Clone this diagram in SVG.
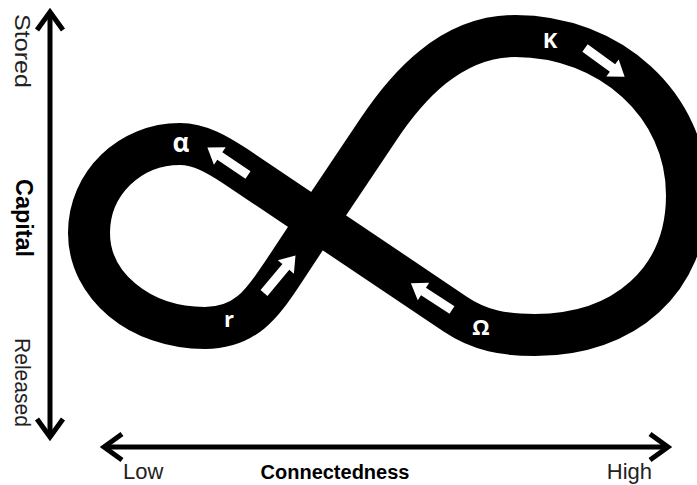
<svg xmlns="http://www.w3.org/2000/svg" width="697" height="485" viewBox="0 0 697 485">
  <style>
    .axis { stroke: #000; stroke-width: 5; fill: none; }
    .axlbl { font-family: "Liberation Sans", Arial, sans-serif; font-size: 22px; fill: #222; }
    .axttl { font-family: "Liberation Sans", Arial, sans-serif; font-size: 20px; font-weight: bold; fill: #000; }
    .band { stroke: #000; stroke-width: 42; fill: none; stroke-linejoin: round; }
    .phase { font-family: "Open Sans", "DejaVu Sans", sans-serif; font-size: 22px; font-weight: bold; fill: #fff; text-anchor: middle; }
    .flow { fill: #fff; }
  </style>
  <defs>
    <marker id="chev" markerUnits="userSpaceOnUse" viewBox="-26 -18 34 36" refX="0" refY="0" markerWidth="34" markerHeight="36" orient="auto-start-reverse">
      <path d="M-18,-13 L0,0 L-18,13" fill="none" stroke="#000" stroke-width="5" stroke-linejoin="miter"/>
    </marker>
    <polygon id="blockArrow" points="0,-4.5 34,-4.5 34,-10.5 49,0 34,10.5 34,4.5 0,4.5"/>
  </defs>
  <rect width="697" height="485" fill="#fff"/>

  <g id="axes">
    <path id="capital-axis" class="axis" d="M50,12 L50,437" marker-start="url(#chev)" marker-end="url(#chev)"/>
    <path id="connectedness-axis" class="axis" d="M104,447 L668,447" marker-start="url(#chev)" marker-end="url(#chev)"/>
  </g>

  <g id="axis-labels">
    <text class="axlbl" transform="translate(15,14) rotate(90)" textLength="74" lengthAdjust="spacingAndGlyphs">Stored</text>
    <text class="axttl" transform="translate(16,218) rotate(90)" text-anchor="middle" style="font-size:23px" textLength="78" lengthAdjust="spacingAndGlyphs">Capital</text>
    <text class="axlbl" transform="translate(15,338) rotate(90)" textLength="89" lengthAdjust="spacingAndGlyphs">Released</text>
    <text class="axlbl" x="123" y="479">Low</text>
    <text class="axttl" x="335" y="479" text-anchor="middle">Connectedness</text>
    <text class="axlbl" x="652" y="479" text-anchor="end">High</text>
  </g>

  <g id="cycle">
    <path class="band" d="M317,221 L378,130 C406,88 450,36 515,36 C610,36 687,105 687,195 C687,280 625,335 535,335 C505,335 480,331 455,314 L235,166 C218,155 200,144 180,144 C130,144 89,183 89,233 C89,285 139,328 205,328 C245,328 262,304 282,274 Z"/>
  </g>

  <g id="flow-arrows">
    <use href="#blockArrow" class="flow" transform="translate(248,175) rotate(-146)"/>
    <use href="#blockArrow" class="flow" transform="translate(264,293) rotate(-50)"/>
    <use href="#blockArrow" class="flow" transform="translate(452,310) rotate(-147)"/>
    <use href="#blockArrow" class="flow" transform="translate(585,48) rotate(36)"/>
  </g>

  <g id="phase-labels">
    <text class="phase" x="181" y="152" style="font-size:26px">α</text>
    <text class="phase" x="229" y="327">r</text>
    <text class="phase" x="481" y="335">Ω</text>
    <text class="phase" x="550" y="48">K</text>
  </g>
</svg>
